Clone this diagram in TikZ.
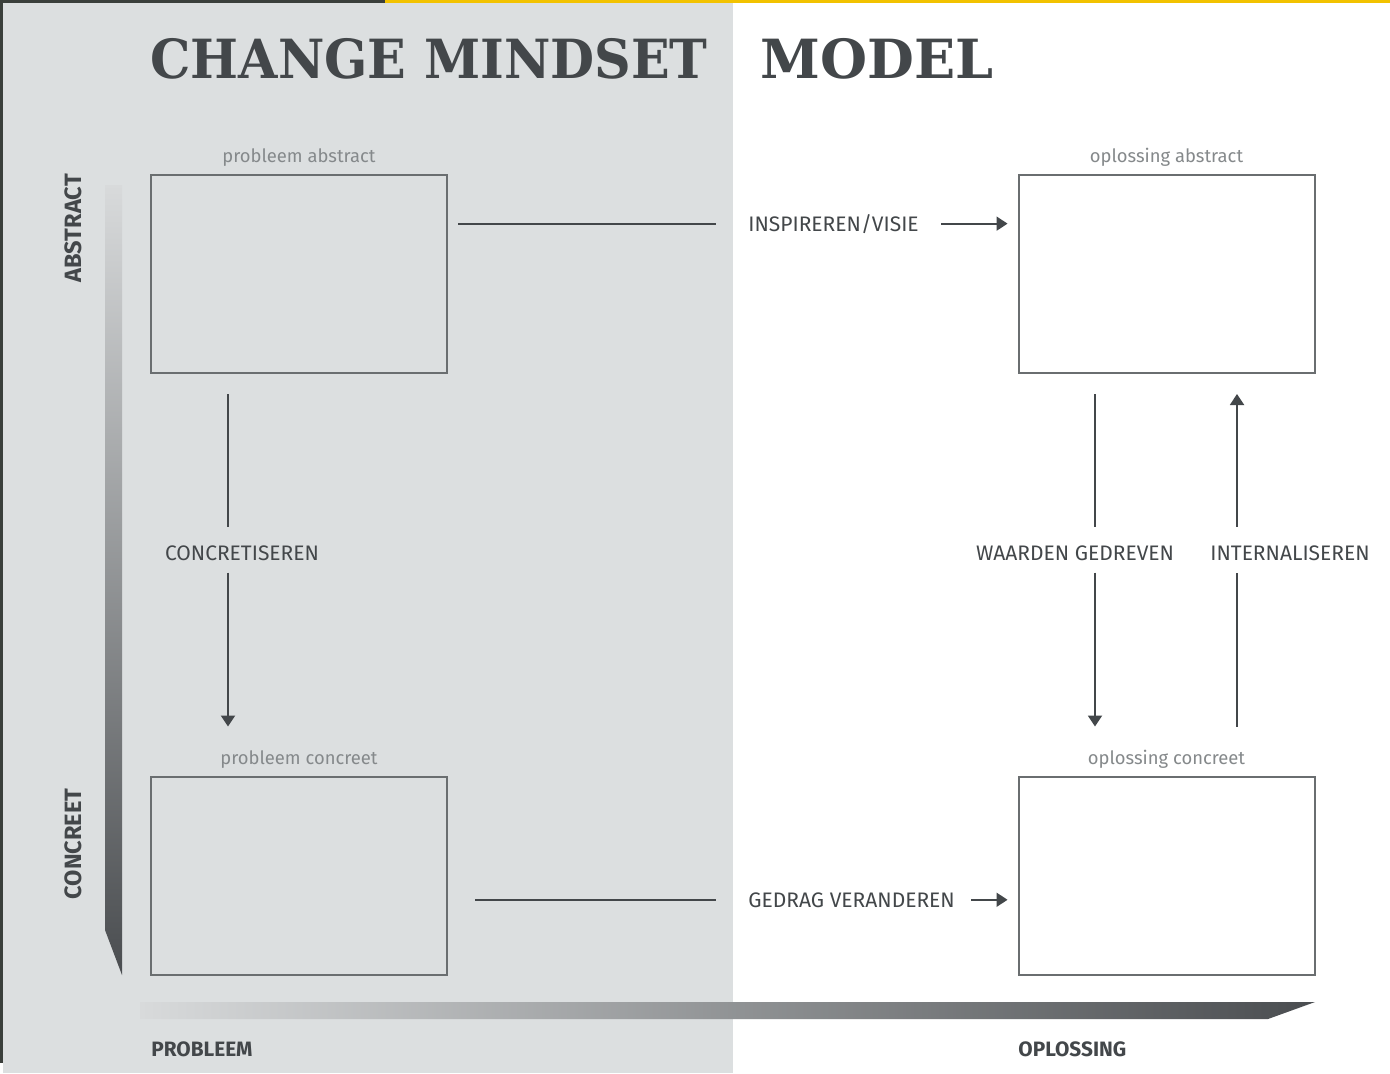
\documentclass[tikz,border=0pt]{standalone}
\usepackage{fontspec}
\usepackage{tikz}
\usetikzlibrary{arrows.meta,positioning}
\newfontfamily\titlefont{DejaVu Serif}
\newfontfamily\labelfont{Fira Sans}
\definecolor{panel}{HTML}{DCDFE0}
\definecolor{ink}{HTML}{43474A}
\definecolor{frame}{HTML}{6A6E70}
\definecolor{captiongray}{HTML}{85898B}
\definecolor{screen}{HTML}{3A3F3B}
\definecolor{marker}{HTML}{F2C200}
\definecolor{barlight}{HTML}{D8DADB}
\definecolor{bardark}{HTML}{4A4D50}

\begin{document}
\begin{tikzpicture}[x=0.5pt,y=-0.5pt,
	box/.style={draw=frame,line width=1pt,minimum width=148pt,minimum height=99pt,inner sep=0pt},
	caption/.style={text=captiongray,font=\labelfont\fontsize{9.2}{9.2}\selectfont,inner sep=0pt},
	tag/.style={text=ink,font=\labelfont\fontsize{10.5}{10.5}\selectfont,inner sep=0pt},
	axislabel/.style={text=ink,font=\labelfont\bfseries\fontsize{10.4}{10.4}\selectfont,inner sep=0pt},
	titletext/.style={text=ink,font=\titlefont\bfseries\fontsize{27}{27}\selectfont,inner sep=0pt,anchor=base west},
	link/.style={draw=ink,line width=1pt},
	flow/.style={link,-{Triangle[width=7pt,length=5.5pt]}}]
		\useasboundingbox (0,0) rectangle (1390,1073);
		\fill[white] (0,0) rectangle (1390,1073);
		\fill[panel] (3,3) rectangle (733,1073);
		\fill[screen] (0,0) rectangle (3,1063);
		\fill[screen] (0,0) rectangle (385,3);
		\fill[marker] (385,0) rectangle (1390,3);

		\shade[top color=barlight,bottom color=bardark] (105,185) -- (122,185) -- (122,975) -- (105,930) -- cycle;
		\shade[left color=barlight,right color=bardark] (140,1002) -- (1315,1002) -- (1268,1019) -- (140,1019) -- cycle;

		\node[titletext] (title) at (150,78) {\scalebox{0.94}[1]{CHANGE MINDSET}};
		\node[titletext] (model) at (760,78) {MODEL};

		\node[box,fill=panel] (pa) at (299,274) {};
		\node[box,fill=panel] (pc) at (299,875.5) {};
		\node[box,fill=white] (oa) at (1166.5,274) {};
		\node[box,fill=white] (oc) at (1166.5,875.5) {};
		\node[caption,above=3.5pt of pa] (pacap) {probleem abstract};
		\node[caption,above=3.5pt of pc] (pccap) {probleem concreet};
		\node[caption,above=3.5pt of oa] (oacap) {oplossing abstract};
		\node[caption,above=3.5pt of oc] (occap) {oplossing concreet};

		\node[tag,anchor=base west] (insp) at (748,231) {INSPIREREN/VISIE};
		\node[tag,anchor=base west] (gedrag) at (748,907) {GEDRAG VERANDEREN};
		\node[tag,anchor=base] (conc) at (242,560) {CONCRETISEREN};
		\node[tag,anchor=base] (waarden) at (1075,560) {WAARDEN GEDREVEN};
		\node[tag,anchor=base] (intern) at (1290,560) {INTERNALISEREN};

		\node[axislabel,rotate=90,font=\labelfont\bfseries\fontsize{11.8}{11.8}\selectfont] (abstract) at (73,228) {ABSTRACT};
		\node[axislabel,rotate=90,font=\labelfont\bfseries\fontsize{11.8}{11.8}\selectfont] (concreet) at (73,844) {CONCREET};
		\node[axislabel,anchor=base west] (probleem) at (151,1056) {PROBLEEM};
		\node[axislabel,anchor=base west] (oplossing) at (1018,1056) {OPLOSSING};

		\coordinate (colL) at (228,0);
		\coordinate (colW) at (1095,0);
		\coordinate (colI) at (1237,0);

		\draw[link,shorten <=5pt,shorten >=16pt] (pa.east |- insp.west) -- (insp.west);
		\draw[flow,shorten <=11pt,shorten >=5pt] (insp.east) -- (insp.east -| oa.west);
		\draw[link,shorten <=13.5pt,shorten >=16pt] (pc.east |- gedrag.west) -- (gedrag.west);
		\draw[flow,shorten <=8pt,shorten >=5pt] (gedrag.east) -- (gedrag.east -| oc.west);

		\draw[link,shorten <=10pt,shorten >=9pt] (colL |- pa.south) -- (colL |- conc.north);
		\draw[flow,shorten <=6pt,shorten >=24.5pt] (colL |- conc.south) -- (colL |- pc.north);
		\draw[link,shorten <=10pt,shorten >=9pt] (colW |- oa.south) -- (colW |- waarden.north);
		\draw[flow,shorten <=6pt,shorten >=24.5pt] (colW |- waarden.south) -- (colW |- oc.north);
		\draw[link,shorten <=24.5pt,shorten >=6pt] (colI |- oc.north) -- (colI |- intern.south);
		\draw[flow,shorten <=9pt,shorten >=10pt] (colI |- intern.north) -- (colI |- oa.south);
	\end{tikzpicture}
\end{document}
